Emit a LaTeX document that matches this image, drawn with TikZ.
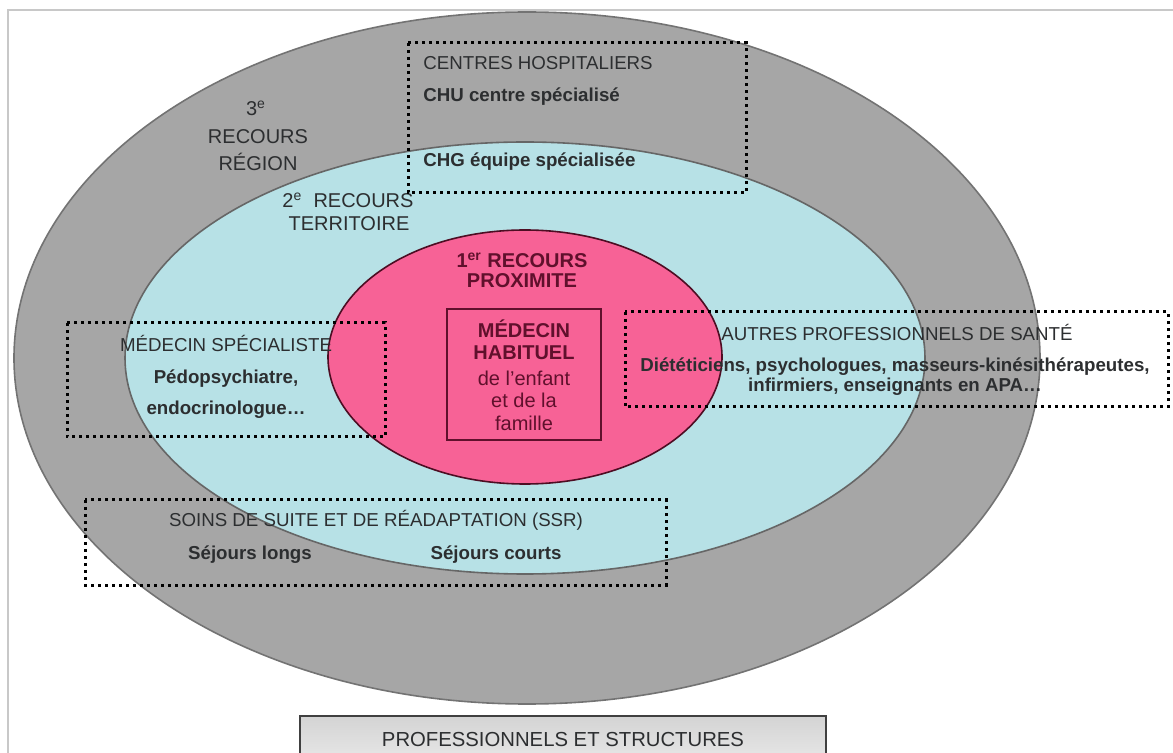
\documentclass[tikz,border=0pt]{standalone}
\usepackage{fontspec}
\setmainfont{Liberation Sans}
\usepackage{tikz}

\definecolor{regiongris}{RGB}{166,166,166}
\definecolor{territoirecyan}{RGB}{183,225,230}
\definecolor{proximiterose}{RGB}{247,98,150}
\definecolor{textegris}{RGB}{44,46,48}
\definecolor{bordeaux}{RGB}{96,16,44}
\definecolor{cadregris}{RGB}{200,200,200}

\begin{document}
\begin{tikzpicture}[x=0.5pt, y=-0.5pt,
    etiquette/.style={inner sep=0pt, text=textegris, font=\fontsize{10}{11}\selectfont},
    titre/.style={inner sep=0pt, text=textegris, font=\fontsize{9.35}{11}\selectfont},
    detail/.style={inner sep=0pt, text=textegris, font=\fontsize{9.35}{10}\selectfont\bfseries}]
              \newcommand{\cadrepointille}[2]
              {%
                \draw[line width=1.5pt, dash pattern=on 1.6pt off 1.9pt] #1 rectangle #2;%
              }%
              \useasboundingbox (0, 0) rectangle (1173, 753);
              \draw[cadregris, line width=1.1pt] (8, 753) -- (8, 10) -- (1173, 10);
              \filldraw[fill=regiongris, draw=black!55, line width=0.8pt] (527, 358) ellipse [x radius=256.5pt, y radius=173pt];
              \filldraw[fill=territoirecyan, draw=black!60, line width=0.8pt] (525, 358) ellipse [x radius=200pt, y radius=108pt];
              \filldraw[fill=proximiterose, draw=bordeaux!80!black, line width=0.8pt] (525, 357) ellipse [x radius=98.5pt, y radius=63.5pt];
              \node[etiquette] (region1) at (256, 108) {3\textsuperscript{e}};
              \node[etiquette] (region2) at (258, 137) {RECOURS};
              \node[etiquette] (region3) at (258, 162) {RÉGION};
              \node[etiquette] (territoire1) at (348, 200) {2\textsuperscript{e}\ \ RECOURS};
              \node[etiquette] (territoire2) at (349, 224) {TERRITOIRE};
              \node[etiquette, text=bordeaux, font=\fontsize{10}{11}\selectfont\bfseries] (proximite1) at (522, 260) {1\textsuperscript{er} RECOURS};
              \node[etiquette, text=bordeaux, font=\fontsize{10}{11}\selectfont\bfseries] (proximite2) at (522, 281) {PROXIMITE};
              \draw[bordeaux, line width=1.1pt] (447, 309) rectangle (601, 440);
              \node[etiquette, text=bordeaux, align=center, font=\fontsize{10}{11.3}\selectfont] (habituel) at (524, 375)
                {\textbf{MÉDECIN}\\\textbf{HABITUEL}\\[1.5pt]de l’enfant\\et de la\\famille};
              \cadrepointille{(408, 43)}{(746, 193)}
              \node[titre, anchor=west] (hopitaux) at (423, 63) {CENTRES HOSPITALIERS};
              \node[detail, anchor=west] (chu) at (423, 97) {CHU centre spécialisé};
              \node[detail, anchor=west] (chg) at (423, 162) {CHG équipe spécialisée};
              \cadrepointille{(67, 323)}{(385, 437)}
              \node[titre] (specialiste) at (226, 343) {MÉDECIN SPÉCIALISTE};
              \node[detail] (specialiste1) at (226, 379) {Pédopsychiatre,};
              \node[detail] (specialiste2) at (226, 410) {endocrinologue…};
              \cadrepointille{(625, 312)}{(1168, 407)}
              \node[titre] (autres) at (897, 332) {AUTRES PROFESSIONNELS DE SANTÉ};
              \node[detail, align=center] (autres1) at (895, 377)
                {Diététiciens, psychologues, masseurs-kinésithérapeutes,\\infirmiers, enseignants en APA…};
              \cadrepointille{(85, 500)}{(666, 585)}
              \node[titre] (ssr) at (376, 520) {SOINS DE SUITE ET DE RÉADAPTATION (SSR)};
              \node[detail] (ssrlong) at (250, 555) {Séjours longs};
              \node[detail] (ssrcourt) at (496, 555) {Séjours courts};
              \draw[top color=black!17, bottom color=black!8, draw=black!75, line width=0.8pt] (300, 716) rectangle (826, 770);
              \node[etiquette, font=\fontsize{10.15}{11}\selectfont] (structures) at (563, 740) {PROFESSIONNELS ET STRUCTURES};
            \end{tikzpicture}
\end{document}
